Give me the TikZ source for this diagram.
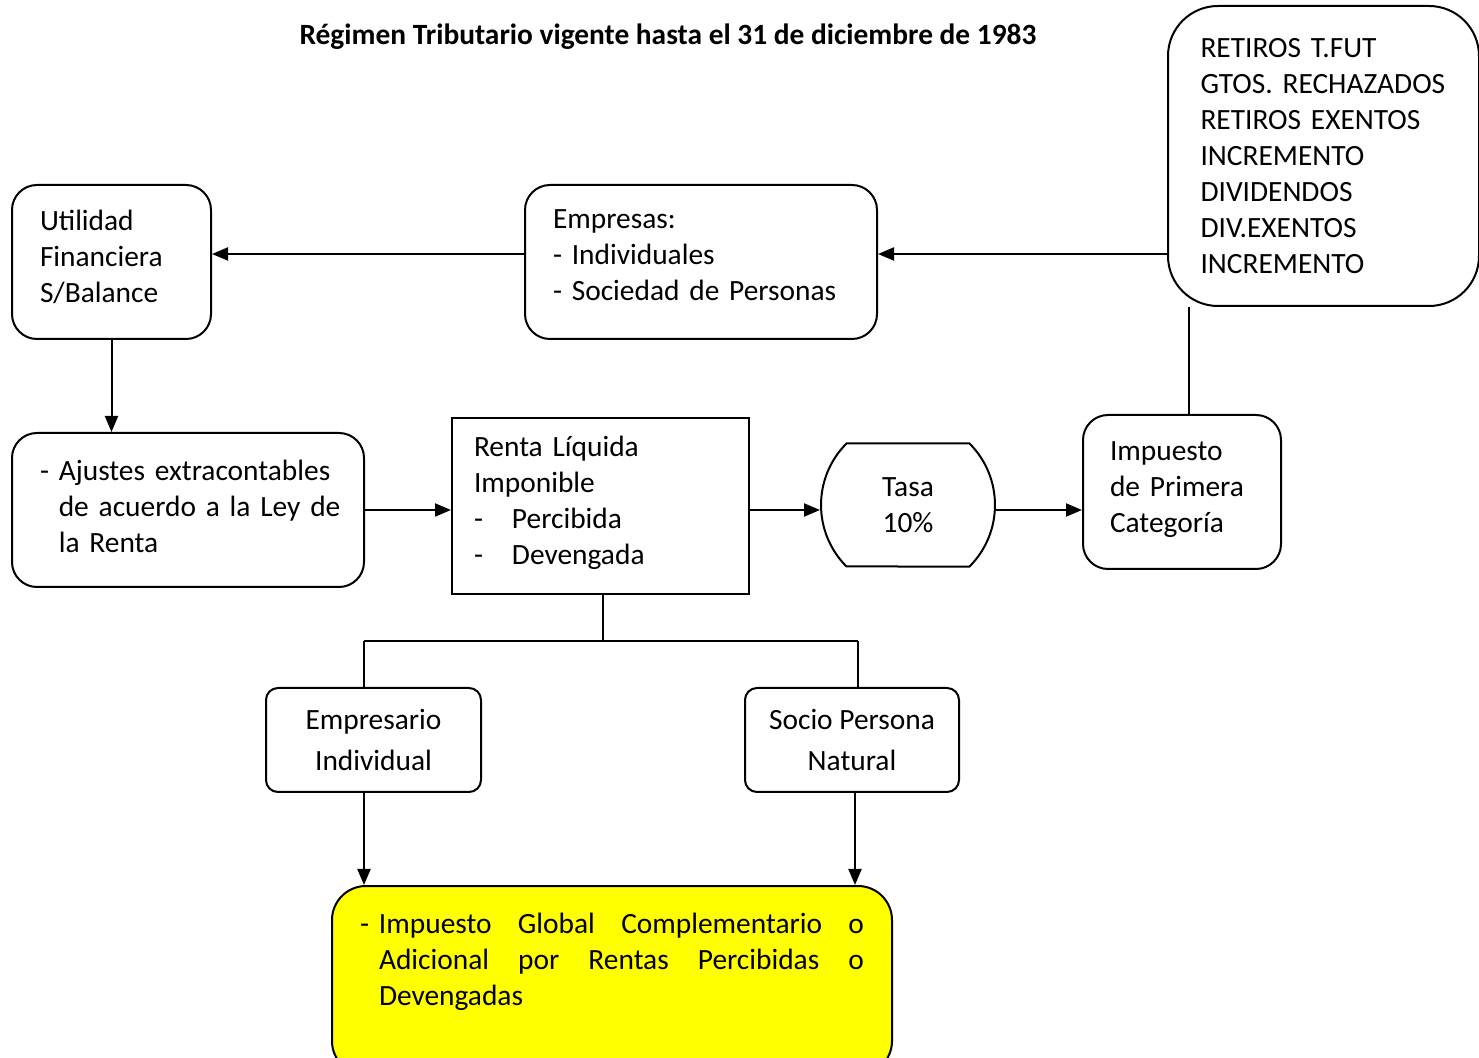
\documentclass[tikz,border=0pt]{standalone}
\usepackage{fontspec}
\setmainfont{Carlito}
\usetikzlibrary{arrows.meta,shapes.misc}
\definecolor{amarillo}{RGB}{255,255,0}

\begin{document}
\begin{tikzpicture}[x=0.5pt,y=-0.5pt,
    every node/.style={font=\fontsize{14.7}{18}\selectfont},
    box/.style={draw,line width=1pt,rounded corners=12.5pt,inner xsep=0pt,align=left},
    arr/.style={line width=1pt,-{Triangle[length=8pt,width=6.5pt]}},
    ln/.style={line width=1pt}]
        \useasboundingbox (0,0) rectangle (1479,1058);
        \clip (0,0) rectangle (1479,1058);
        \node[font=\fontsize{14.7}{18}\selectfont\bfseries] (titulo) at (668,37) {Régimen Tributario vigente hasta el 31 de diciembre de 1983};
        % upper row
        \node[box,rounded corners=25pt,minimum width=155.5pt,minimum height=150pt,text width=123pt] (retiros) at (1323.5,156)
            {RETIROS T.FUT\\GTOS. RECHAZADOS\\RETIROS EXENTOS\\INCREMENTO\\DIVIDENDOS\\DIV.EXENTOS\\INCREMENTO};
        \node[box,minimum width=176pt,minimum height=77pt,text width=148pt] (empresas) at (701,262)
            {Empresas:\\- Individuales\\- Sociedad de Personas\\[-11pt]\mbox{}};
        \node[box,minimum width=99.5pt,minimum height=77pt,text width=71.5pt] (utilidad) at (111.5,262)
            {Utilidad\\Financiera\\S/Balance\\[-12pt]\mbox{}};
        % middle row
        \node[box,minimum width=176pt,minimum height=77pt,text width=148pt] (ajustes) at (188,510)
            {\mbox{- Ajustes extracontables}\\\mbox{\hphantom{- }de acuerdo a la Ley de}\\\mbox{\hphantom{- }la Renta}\\[-14pt]\mbox{}};
        \node[box,sharp corners,minimum width=148.5pt,minimum height=88pt,text width=126.5pt] (renta) at (600.5,506)
            {Renta Líquida\\Imponible\\\makebox[19pt][l]{-}Percibida\\\makebox[19pt][l]{-}Devengada\\[-12pt]\mbox{}};
        \node[draw,line width=1pt,rounded rectangle,rounded rectangle arc length=90,minimum width=87pt,minimum height=61.5pt,align=center] (tasa) at (908,505)
            {Tasa\\10\%};
        \node[box,minimum width=99pt,minimum height=77pt,text width=72pt] (impuesto) at (1182,492)
            {Impuesto\\de Primera\\Categoría\\[-13pt]\mbox{}};
        % lower row
        \node[box,rounded corners=6pt,minimum width=107.5pt,minimum height=52pt,align=center] (empresario) at (373.5,740)
            {Empresario\\[2.5pt]Individual};
        \node[box,rounded corners=6pt,minimum width=107pt,minimum height=52pt,align=center] (socio) at (852,740)
            {Socio Persona\\[2.5pt]Natural};
        \node[box,fill=amarillo,rounded corners=17pt,minimum width=280pt,minimum height=94.5pt,text width=252pt] (global) at (612,980.5)
            {\makebox[9.5pt][l]{-}\makebox[242.5pt][l]{Impuesto\hfill Global\hfill Complementario\hfill o}\\
             \hspace*{9.5pt}\makebox[242.5pt][l]{Adicional\hfill por\hfill Rentas\hfill Percibidas\hfill o}\\
             \hspace*{9.5pt}Devengadas\\[3pt]\mbox{}};
        % connectors
        \draw[arr] ([yshift=4pt]empresas.east -| retiros.west) -- ([yshift=4pt]empresas.east);
        \draw[arr] ([yshift=4pt]empresas.west) -- ([yshift=4pt]utilidad.east);
        \draw[arr] (utilidad.south) -- (utilidad.south |- ajustes.north);
        \draw[arr] (ajustes.east) -- (ajustes.east -| renta.west);
        \draw[arr] (ajustes.east -| renta.east) -- (ajustes.east -| tasa.west);
        \draw[arr] (ajustes.east -| tasa.east) -- (ajustes.east -| impuesto.west);
        \coordinate (subida) at (1189,415);
        \draw[ln] (subida) -- (subida |- retiros.south);
        \coordinate (rama) at (603,641);
        \coordinate (ramaL) at (364,641);
        \coordinate (ramaR) at (858,641);
        \draw[ln] (renta.south -| rama) -- (rama);
        \draw[ln] (ramaL) -- (ramaR);
        \draw[ln] (ramaL) -- (ramaL |- empresario.north);
        \draw[ln] (ramaR) -- (ramaR |- socio.north);
        \coordinate (bajaL) at (364,792);
        \coordinate (bajaR) at (855,792);
        \draw[arr] (bajaL) -- (bajaL |- global.north);
        \draw[arr] (bajaR) -- (bajaR |- global.north);
    \end{tikzpicture}
\end{document}
